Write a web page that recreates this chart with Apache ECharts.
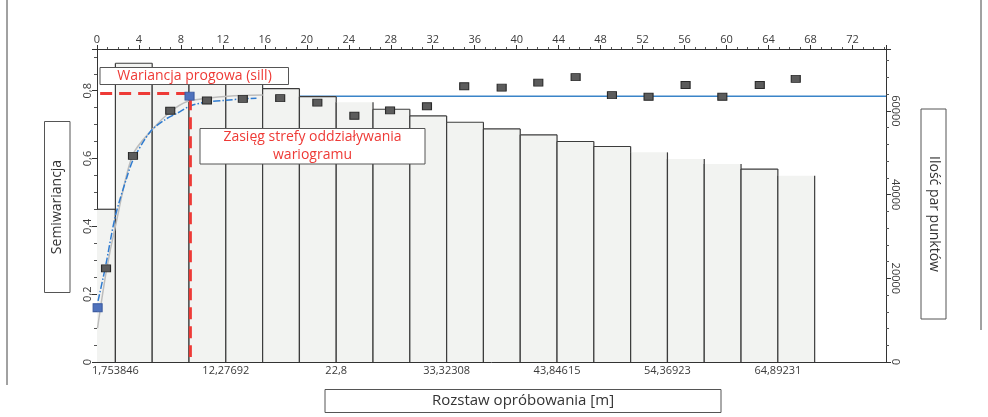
<!DOCTYPE html>
<html>
<head>
<meta charset="utf-8">
<script src="https://cdn.jsdelivr.net/npm/echarts@6/dist/echarts.min.js"></script>
<style>
html, body { margin: 0; padding: 0; background: #fff; }
#chart { width: 988px; height: 417px; }
</style>
</head>
<body>
<div id="chart"></div>
<script>
// histogram: ilosc par punktow w klasach odleglosci
var binWidth = 3.507692;
var binCenters = [0, 3.5077, 7.0154, 10.5231, 14.0308, 17.5385, 21.0462, 24.5538, 28.0615, 31.5692,
	35.0769, 38.5846, 42.0923, 45.6, 49.1077, 52.6154, 56.1231, 59.6308, 63.1385, 66.6462];
var pairCounts = [36500, 71400, 69800, 68200, 66800, 65350, 63400, 62100, 60400, 58800,
	57300, 55700, 54300, 52700, 51500, 50100, 48500, 47300, 46100, 44500];

// semiwariancja empiryczna
var lagDark = [0.86, 3.43, 6.98, 10.48, 13.9, 17.46, 21.0, 24.53, 27.93, 31.45,
	35.0, 38.57, 42.06, 45.62, 49.08, 52.57, 56.1, 59.6, 63.17, 66.6];
var gammaDark = [0.276, 0.608, 0.741, 0.771, 0.776, 0.778, 0.765, 0.726, 0.742, 0.754,
	0.813, 0.809, 0.824, 0.840, 0.787, 0.782, 0.817, 0.782, 0.817, 0.835];
var lagBlue = [0.06, 8.82];
var gammaBlue = [0.160, 0.784];

// model (niebieski, kreska-kropka) i dopasowanie (szary)
var modelLag = [0.1, 0.8, 1.75, 2.9, 3.5, 5.1, 6.5, 7.6, 8.9, 10.3, 12.3, 13.9, 15.2];
var modelGamma = [0.18, 0.28, 0.43, 0.55, 0.60, 0.68, 0.715, 0.733, 0.755, 0.766, 0.772, 0.776, 0.778];
var fitLag = [0.05, 0.9, 1.75, 3.4, 5.4, 7.0, 8.6, 10.5, 12.5, 15.8];
var fitGamma = [0.10, 0.27, 0.40, 0.61, 0.69, 0.738, 0.768, 0.778, 0.784, 0.787];

// sill i zasieg
var sillLag = [19.29, 75.2];
var sillGamma = [0.784, 0.784];
var rangeLag = [0.3, 8.9, 8.9];
var rangeGamma = [0.792, 0.792, 0.015];

// opisy osi
var bottomTicks = [1.753846, 12.27692, 22.8, 33.32308, 43.84615, 54.36923, 64.89231];

// slupki bez gornej krawedzi (tak jak w oryginale)
var openTopBins = [7, 15, 16, 17, 19];

function pairs(xs, ys) {
	var out = [];
	for (var i = 0; i < xs.length; i++) {
		out.push([xs[i], ys[i]]);
	}
	return out;
}

var histData = [];
for (var i = 0; i < binCenters.length; i++) {
	histData.push([binCenters[i], pairCounts[i], binWidth]);
}

function renderBin(params, api) {
	var c = api.value(0), h = api.value(1), w = api.value(2);
	var p0 = api.coord([c - w / 2, h]);
	var p1 = api.coord([c + w / 2, 0]);
	var cs = params.coordSys;
	var rect = echarts.graphic.clipRectByRect(
		{ x: p0[0], y: p0[1], width: p1[0] - p0[0], height: p1[1] - p0[1] },
		{ x: cs.x, y: cs.y, width: cs.width, height: cs.height }
	);
	if (!rect) return;
	var edge = { stroke: '#3c3c3c', lineWidth: 1.2, fill: null };
	var x0 = rect.x, x1 = rect.x + rect.width, y0 = rect.y, y1 = rect.y + rect.height;
	var children = [
		{ type: 'rect', shape: rect, style: { fill: '#f2f3f1' } },
		{ type: 'line', shape: { x1: x1, y1: y0, x2: x1, y2: y1 }, style: edge }
	];
	if (x0 > cs.x + 0.5) {
		children.push({ type: 'line', shape: { x1: x0, y1: y0, x2: x0, y2: y1 }, style: edge });
	}
	if (openTopBins.indexOf(params.dataIndex) < 0) {
		children.push({ type: 'line', shape: { x1: x0, y1: y0, x2: x1, y2: y0 }, style: edge });
	}
	return { type: 'group', children: children };
}

var axisText = { fontFamily: 'Open Sans', fontSize: 11, color: '#3a3a3a' };
var lineDark = { color: '#333', width: 1 };
var comma = function (v) { return String(v).replace('.', ','); };

var dom = document.getElementById('chart');
var myChart = echarts.init(dom);

var option = {
	animation: false,
	grid: { left: 97, right: 102, top: 49, bottom: 55 },
	xAxis: [
		{
			type: 'value', min: 0, max: 75.2, position: 'bottom',
			axisLine: { onZero: false, lineStyle: lineDark },
			axisTick: { show: false },
			minorTick: { show: false },
			splitLine: { show: false },
			axisLabel: Object.assign({}, axisText, { margin: 3, customValues: bottomTicks, formatter: comma })
		},
		{
			type: 'value', min: 0, max: 75.2, interval: 4, position: 'top',
			axisLine: { onZero: false, lineStyle: lineDark },
			axisTick: { length: 4, lineStyle: lineDark },
			minorTick: { show: true, splitNumber: 4, length: 2, lineStyle: { color: '#555' } },
			splitLine: { show: false },
			axisLabel: Object.assign({}, axisText, { margin: 4, showMaxLabel: false })
		}
	],
	yAxis: [
		{
			type: 'value', min: 0, max: 0.923, interval: 0.2, position: 'left',
			axisLine: { show: true, onZero: false, lineStyle: lineDark },
			axisTick: { length: 5, lineStyle: lineDark },
			minorTick: { show: true, splitNumber: 4, length: 3, lineStyle: { color: '#555' } },
			splitLine: { show: false },
			axisLabel: Object.assign({}, axisText, {
				rotate: 90, margin: 4, showMaxLabel: false,
				formatter: function (v) { return v === 0 ? '0' : v.toFixed(1).replace('.', ','); }
			})
		},
		{
			type: 'value', min: 0, max: 74800, interval: 20000, position: 'right',
			axisLine: { show: true, onZero: false, lineStyle: lineDark },
			axisTick: { length: 5, lineStyle: lineDark },
			minorTick: { show: true, splitNumber: 5, length: 3, lineStyle: { color: '#555' } },
			splitLine: { show: false },
			axisLabel: Object.assign({}, axisText, {
				rotate: -90, margin: 4, showMaxLabel: false,
				formatter: function (v) { return String(v); }
			})
		}
	],
	series: [
		{
			name: 'sill', type: 'line', xAxisIndex: 0, yAxisIndex: 0, z: 1,
			data: pairs(sillLag, sillGamma), symbol: 'none',
			lineStyle: { color: '#3a84c8', width: 1.5 }
		},
		{
			name: 'pary', type: 'custom', xAxisIndex: 0, yAxisIndex: 1, z: 2,
			renderItem: renderBin, data: histData
		},
		{
			name: 'dopasowanie', type: 'line', xAxisIndex: 0, yAxisIndex: 0, z: 3,
			data: pairs(fitLag, fitGamma), symbol: 'none', smooth: 0.3,
			lineStyle: { color: '#bdbdbd', width: 1.5 }
		},
		{
			name: 'model', type: 'line', xAxisIndex: 0, yAxisIndex: 0, z: 4,
			data: pairs(modelLag, modelGamma), symbol: 'none', smooth: 0.3,
			lineStyle: { color: '#2f7bd0', width: 1.5, type: [7, 2, 1.5, 2] }
		},
		{
			name: 'zasieg', type: 'line', xAxisIndex: 0, yAxisIndex: 0, z: 5,
			data: pairs(rangeLag, rangeGamma), symbol: 'none',
			lineStyle: { color: '#ee3a36', width: 3, type: [12, 7] }
		},
		{
			name: 'semiwariancja', type: 'scatter', xAxisIndex: 0, yAxisIndex: 0, z: 6,
			data: pairs(lagDark, gammaDark), symbol: 'rect', symbolSize: [9, 7],
			itemStyle: { color: '#5c5c5c', borderColor: '#2a2a2a', borderWidth: 1, opacity: 1 }
		},
		{
			name: 'semiwariancja2', type: 'scatter', xAxisIndex: 0, yAxisIndex: 0, z: 6,
			data: pairs(lagBlue, gammaBlue), symbol: 'rect', symbolSize: [9, 8],
			itemStyle: { color: '#4f72bd', borderColor: '#3a5aa0', borderWidth: 1, opacity: 1 }
		}
	],
	graphic: [
		// ramka
		{ type: 'line', shape: { x1: 7, y1: 0, x2: 7, y2: 385 }, style: { stroke: '#444', lineWidth: 1 } },
		{ type: 'line', shape: { x1: 981, y1: 0, x2: 981, y2: 330 }, style: { stroke: '#444', lineWidth: 1 } },
		// opisy
		{
			type: 'rect', z: 100, shape: { x: 100, y: 67.5, width: 188.5, height: 17 },
			style: { fill: '#fff', stroke: '#555', lineWidth: 1 }
		},
		{
			type: 'text', z: 101, x: 194.5, y: 76.5,
			style: { text: 'Wariancja progowa (sill)', fill: '#ee3a36', font: '14px "Open Sans"', align: 'center', verticalAlign: 'middle' }
		},
		{
			type: 'rect', z: 100, shape: { x: 200, y: 128.5, width: 225, height: 35.5 },
			style: { fill: '#fff', stroke: '#555', lineWidth: 1 }
		},
		{
			type: 'text', z: 101, x: 312.5, y: 137,
			style: { text: 'Zasięg strefy oddziaływania', fill: '#ee3a36', font: '14px "Open Sans"', align: 'center', verticalAlign: 'middle' }
		},
		{
			type: 'text', z: 101, x: 312.5, y: 155,
			style: { text: 'wariogramu', fill: '#ee3a36', font: '14px "Open Sans"', align: 'center', verticalAlign: 'middle' }
		},
		{
			type: 'rect', shape: { x: 44.5, y: 121.5, width: 25.5, height: 171 },
			style: { fill: '#fff', stroke: '#555', lineWidth: 1 }
		},
		{
			type: 'text', x: 57.5, y: 207, rotation: Math.PI / 2,
			style: { text: 'Semiwariancja', fill: '#333', font: '14px "Open Sans"', align: 'center', verticalAlign: 'middle' }
		},
		{
			type: 'rect', shape: { x: 921, y: 109, width: 25, height: 210 },
			style: { fill: '#fff', stroke: '#555', lineWidth: 1 }
		},
		{
			type: 'text', x: 933.5, y: 214, rotation: -Math.PI / 2,
			style: { text: 'Ilość par punktów', fill: '#333', font: '14px "Open Sans"', align: 'center', verticalAlign: 'middle' }
		},
		{
			type: 'rect', shape: { x: 325, y: 389.5, width: 396, height: 23 },
			style: { fill: '#fff', stroke: '#555', lineWidth: 1 }
		},
		{
			type: 'text', x: 523, y: 401,
			style: { text: 'Rozstaw opróbowania [m]', fill: '#333', font: '15px "Open Sans"', align: 'center', verticalAlign: 'middle' }
		}
	]
};

if (option && typeof option === "object") {
	myChart.setOption(option, true);
}
</script>
</body>
</html>
